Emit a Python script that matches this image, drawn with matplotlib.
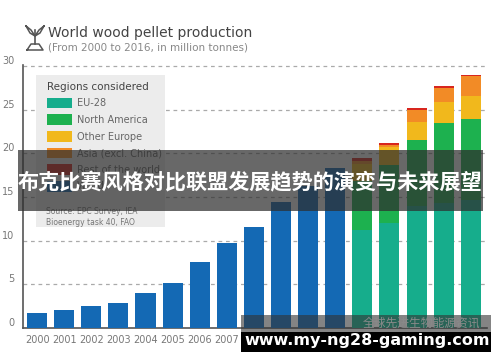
import matplotlib
matplotlib.use('Agg')
import matplotlib.pyplot as plt
from matplotlib.patches import Rectangle, Patch
from matplotlib.lines import Line2D
import numpy as np

# data (million tonnes)
years = [str(y) for y in range(2000, 2017)]
world_years = years[:12]
world = [1.7, 2.1, 2.55, 2.9, 4.0, 5.2, 7.6, 9.7, 11.6, 14.4, 16.3, 18.3]

region_years = years[12:]
eu28 = [11.2, 12.0, 14.0, 14.3, 14.6]
north_america = [5.6, 6.7, 7.5, 9.2, 9.3]
other_europe = [2.0, 2.0, 2.1, 2.4, 2.7]
asia = [0.3, 0.3, 1.4, 1.6, 2.2]
rest = [0.3, 0.2, 0.2, 0.2, 0.2]

regions = ['EU-28', 'North America', 'Other Europe', 'Asia (excl. China)',
           'Rest of the world']
region_vals = [eu28, north_america, other_europe, asia, rest]
region_cols = ['#16ad8c', '#1db14f', '#f1b81c', '#f28b26', '#d8261e']
world_col = '#1469b4'

W, H = 500., 362.
def fx(x):
    return x / W
def fy(y):
    return 1. - y / H

fig = plt.figure(figsize=(5, 3.62), dpi=100)
fig.patch.set_facecolor('white')

ax = fig.add_axes([fx(23), fy(328), fx(487) - fx(23), fy(65) - fy(328)])
xpos = np.arange(len(years))
bw = 0.74

ax.bar(xpos[:12], world, width=bw, color=world_col, zorder=3)
bottom = np.zeros(len(region_years))
for vals, col in zip(region_vals, region_cols):
    ax.bar(xpos[12:], vals, width=bw, bottom=bottom, color=col, zorder=3)
    bottom += np.array(vals)

ax.set_xlim(-0.52, 16.6)
ax.set_ylim(0, 30.1)
ax.set_yticks(range(0, 31, 5))
ax.set_xticks(xpos)
ax.set_xticklabels(years)
ax.tick_params(length=0, labelsize=7, colors='#777777')
ax.tick_params(axis='y', pad=6)
ax.tick_params(axis='x', pad=5)
for lab in ax.get_yticklabels():
    lab.set_verticalalignment('bottom')
ax.yaxis.grid(True, linestyle=(0, (3, 3)), color='#aaaaaa', linewidth=0.9)
ax.set_axisbelow(True)
for s in ['top', 'right']:
    ax.spines[s].set_visible(False)
ax.spines['left'].set_color('#555555')
ax.spines['bottom'].set_color('#555555')
ax.spines['left'].set_linewidth(1.2)
ax.spines['bottom'].set_linewidth(1.2)

# legend box
fig.patches.append(Rectangle((fx(36), fy(227)), fx(165) - fx(36), fy(75) - fy(227),
                             transform=fig.transFigure, facecolor='#ececec',
                             edgecolor='none', zorder=4))
handles = [Patch(facecolor=c) for c in region_cols] + [Patch(facecolor=world_col)]
leg = fig.legend(handles, regions + ['World'], title='Regions considered',
                 loc='upper left', bbox_to_anchor=(fx(38), fy(73)),
                 frameon=False, fontsize=7,
                 title_fontsize=7.5, handlelength=2.6, handleheight=1.3,
                 labelspacing=0.62, handletextpad=0.5, alignment='left')
leg.set_zorder(5)
for t in leg.get_texts():
    t.set_color('#666666')
leg.get_title().set_color('#444444')
fig.text(fx(46), fy(217), 'Source: EPC Survey, IEA\nBioenergy task 40, FAO',
         fontsize=5.5, color='#777777', va='center', linespacing=1.4, zorder=6)

# title and icon
fig.text(fx(48), fy(33), 'World wood pellet production', fontsize=10,
         color='#444444', va='center')
fig.text(fx(48), fy(47), '(From 2000 to 2016, in million tonnes)', fontsize=7.5,
         color='#888888', va='center')
icol = '#555555'
fig.lines.append(Line2D([fx(35), fx(35)], [fy(30), fy(44)], transform=fig.transFigure,
                        color=icol, lw=1.2))
fig.lines.append(Line2D([fx(26), fx(30), fx(35), fx(31), fx(26)],
                        [fy(26), fy(33), fy(36), fy(30), fy(26)],
                        transform=fig.transFigure, color=icol, lw=1.1))
fig.lines.append(Line2D([fx(44), fx(40), fx(35), fx(39), fx(44)],
                        [fy(26), fy(33), fy(36), fy(30), fy(26)],
                        transform=fig.transFigure, color=icol, lw=1.1))
fig.lines.append(Line2D([fx(27), fx(31), fx(39), fx(43), fx(27)],
                        [fy(50), fy(44), fy(44), fy(50), fy(50)],
                        transform=fig.transFigure, color=icol, lw=1.1))

# overlay banner
fig.patches.append(Rectangle((fx(18), fy(211)), fx(483) - fx(18), fy(150) - fy(211),
                             transform=fig.transFigure, facecolor='#2e2e2e',
                             alpha=0.72, edgecolor='none', zorder=10))
fig.text(fx(250), fy(183), '布克比赛风格对比联盟发展趋势的演变与未来展望',
         family=['Noto Sans CJK SC', 'DejaVu Sans'], fontweight='bold',
         fontsize=15.2, color='white', ha='center', va='center', zorder=11)

# bottom watermark
fig.patches.append(Rectangle((fx(241), fy(332)), fx(491) - fx(241), fy(315) - fy(332),
                             transform=fig.transFigure, facecolor='#333333',
                             alpha=0.6, edgecolor='none', zorder=10))
fig.text(fx(480), fy(323), '全球先进生物能源资讯', family=['Noto Sans CJK SC', 'DejaVu Sans'],
         fontsize=8.5, color='#8a8a8a', ha='right', va='center', zorder=11)
fig.patches.append(Rectangle((fx(241), fy(352)), fx(491) - fx(241), fy(332) - fy(352),
                             transform=fig.transFigure, facecolor='black',
                             edgecolor='none', zorder=10))
fig.text(fx(367), fy(340), 'www.my-ng28-gaming.com', fontsize=11.5, fontweight='bold',
         color='white', ha='center', va='center', zorder=11)

fig.savefig('out.png', dpi=100)
